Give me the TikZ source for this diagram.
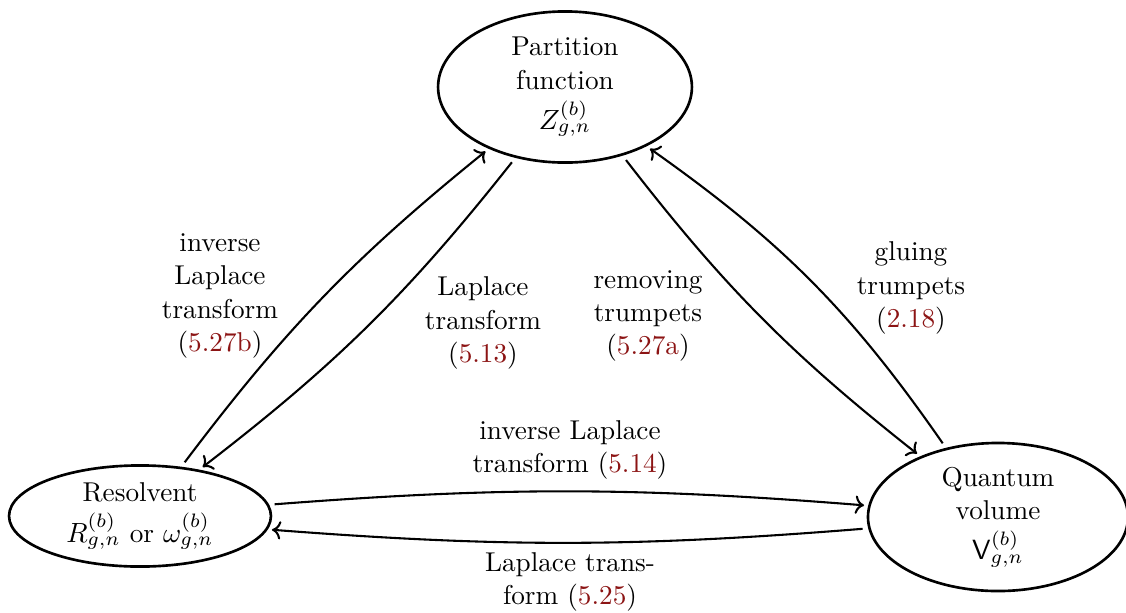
\documentclass[tikz,border=0pt]{standalone}
\usetikzlibrary{shapes.geometric,arrows.meta}
\definecolor{eqred}{RGB}{140,20,20}
\newcommand{\eqr}[1]{(\textcolor{eqred}{#1})}
\begin{document}
\begin{tikzpicture}[x=0.36pt,y=-0.36pt,
  every node/.style={font=\fontsize{9.8}{12}\selectfont, align=center, inner sep=0pt},
  state/.style={ellipse, draw, line width=0.95pt},
  conn/.style={-{To[length=3.2pt,width=6.6pt]}, line width=0.75pt, shorten <=2pt, shorten >=1.5pt}]
\useasboundingbox (0,0) rectangle (1126,612);
\node[state, minimum width=91.4pt, minimum height=54.4pt] (P) at (565,87) {Partition\\function\\[2.5pt]$Z^{(b)}_{g,n}$};
\node[state, minimum width=94.3pt, minimum height=36.4pt] (R) at (140,516) {Resolvent\\[2.5pt]$R^{(b)}_{g,n}$ or $\omega^{(b)}_{g,n}$};
\node[state, minimum width=93.6pt, minimum height=53.3pt] (Q) at (998,517) {Quantum\\volume\\[2.5pt]$\mathsf{V}^{(b)}_{g,n}$};
\draw[conn] (R.50) to[bend left=7] (P.219);
\draw[conn] (P.235) to[bend left=7] (R.38);
\draw[conn] (P.310) to[bend right=7] (Q.142);
\draw[conn] (Q.127) to[bend right=10] (P.324);
\draw[conn] (R.5) to[bend left=4.5] (Q.175);
\draw[conn] (Q.185) to[bend left=4.5] (R.354);
\node (l1) at (220,296) {inverse\\Laplace\\transform\\\eqr{5.27b}};
\node (l2) at (483,323) {Laplace\\transform\\\eqr{5.13}};
\node (l3) at (648,316) {removing\\trumpets\\\eqr{5.27a}};
\node (l4) at (911,288) {gluing\\trumpets\\\eqr{2.18}};
\node (l5) at (570,450) {inverse Laplace\\transform \eqr{5.14}};
\node (l6) at (570,582) {Laplace trans-\\form \eqr{5.25}};
\end{tikzpicture}
\end{document}
